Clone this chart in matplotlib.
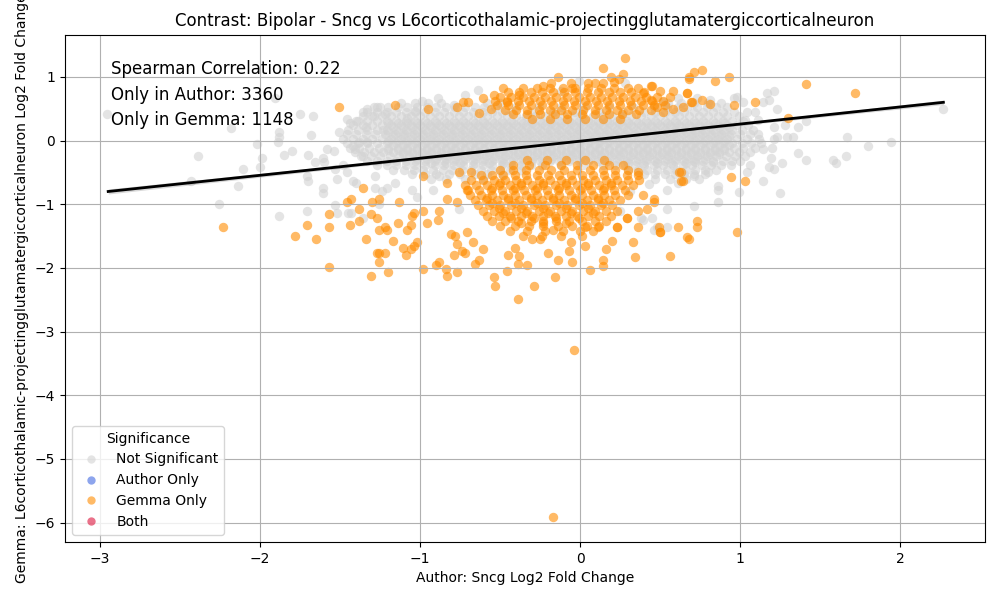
import matplotlib
matplotlib.use("Agg")
import matplotlib.pyplot as plt
from matplotlib.lines import Line2D

TITLE = "Contrast: Bipolar - Sncg vs L6corticothalamic-projectingglutamatergiccorticalneuron"
X_LABEL = "Author: Sncg Log2 Fold Change"
Y_LABEL = "Gemma: L6corticothalamic-projectingglutamatergiccorticalneuron Log2 Fold Change"
STATS = ["Spearman Correlation: 0.22", "Only in Author: 3360", "Only in Gemma: 1148"]
CATEGORIES = ["Not Significant", "Author Only", "Gemma Only", "Both"]
CAT_COLORS = ["lightgray", "royalblue", "darkorange", "crimson"]

# -- NOT SIGNIFICANT: dense band, one row per y level
gray_rows = [
    (0.59, [-1.12, -1.03, -0.95, -0.87, -0.58, -0.50, 0.55, 0.63, 0.71, 0.80, 0.88]),
    (0.52, [-1.27, -1.20, -1.14, -1.08, -1.02, -0.96, -0.90, -0.84, -0.78, -0.72, -0.66, -0.60, -0.53,
            -0.40, -0.26, -0.12, 0.03, 0.18, 0.33, 0.46, 0.54, 0.61, 0.67, 0.73, 0.79, 0.85, 0.92]),
    (0.45, [-1.33, -1.27, -1.21, -1.15, -1.09, -1.03, -0.97, -0.91, -0.85, -0.79, -0.73, -0.67, -0.61,
            -0.55, -0.49, -0.43, -0.31, -0.17, -0.03, 0.12, 0.27, 0.40, 0.47, 0.53, 0.59, 0.65, 0.71,
            0.77, 0.83, 0.89, 0.96]),
    (0.38, [-1.36, -1.30, -1.24, -1.18, -1.12, -1.06, -1.00, -0.94, -0.88, -0.82, -0.76, -0.70, -0.64,
            -0.58, -0.52, -0.46, -0.40, -0.34, -0.28, -0.22, -0.16, -0.10, -0.04, 0.02, 0.08, 0.14,
            0.20, 0.26, 0.32, 0.38, 0.44, 0.50, 0.56, 0.62, 0.68, 0.74, 0.80, 0.86, 0.92, 0.99]),
    (0.31, [-1.40, -1.33, -1.27, -1.21, -1.15, -1.09, -1.03, -0.97, -0.91, -0.85, -0.79, -0.73, -0.67,
            -0.61, -0.55, -0.49, -0.43, -0.37, -0.31, -0.25, -0.19, -0.13, -0.07, -0.01, 0.05, 0.11,
            0.17, 0.23, 0.29, 0.35, 0.41, 0.47, 0.53, 0.59, 0.65, 0.71, 0.77, 0.83, 0.89, 0.95, 1.02]),
    (0.24, [-1.42, -1.36, -1.30, -1.24, -1.18, -1.12, -1.06, -1.00, -0.94, -0.88, -0.82, -0.76, -0.70,
            -0.64, -0.58, -0.52, -0.46, -0.40, -0.34, -0.28, -0.22, -0.16, -0.10, -0.04, 0.02, 0.08,
            0.14, 0.20, 0.26, 0.32, 0.38, 0.44, 0.50, 0.56, 0.62, 0.68, 0.74, 0.80, 0.86, 0.92, 0.98,
            1.05]),
    (0.17, [-1.45, -1.39, -1.33, -1.27, -1.21, -1.15, -1.09, -1.03, -0.97, -0.91, -0.85, -0.79, -0.73,
            -0.67, -0.61, -0.55, -0.49, -0.43, -0.37, -0.31, -0.25, -0.19, -0.13, -0.07, -0.01, 0.05,
            0.11, 0.17, 0.23, 0.29, 0.35, 0.41, 0.47, 0.53, 0.59, 0.65, 0.71, 0.77, 0.83, 0.89, 0.95,
            1.01, 1.08]),
    (0.10, [-1.46, -1.40, -1.34, -1.28, -1.22, -1.16, -1.10, -1.04, -0.98, -0.92, -0.86, -0.80, -0.74,
            -0.68, -0.62, -0.56, -0.50, -0.44, -0.38, -0.32, -0.26, -0.20, -0.14, -0.08, -0.02, 0.04,
            0.10, 0.16, 0.22, 0.28, 0.34, 0.40, 0.46, 0.52, 0.58, 0.64, 0.70, 0.76, 0.82, 0.88, 0.94,
            1.00, 1.06, 1.11]),
    (0.03, [-1.48, -1.42, -1.36, -1.30, -1.24, -1.18, -1.12, -1.06, -1.00, -0.94, -0.88, -0.82, -0.76,
            -0.70, -0.64, -0.58, -0.52, -0.46, -0.40, -0.34, -0.28, -0.22, -0.16, -0.10, -0.04, 0.02,
            0.08, 0.14, 0.20, 0.26, 0.32, 0.38, 0.44, 0.50, 0.56, 0.62, 0.68, 0.74, 0.80, 0.86, 0.92,
            0.98, 1.04, 1.12]),
    (-0.04, [-1.46, -1.39, -1.33, -1.27, -1.21, -1.15, -1.09, -1.03, -0.97, -0.91, -0.85, -0.79, -0.73,
             -0.67, -0.61, -0.55, -0.49, -0.43, -0.37, -0.31, -0.25, -0.19, -0.13, -0.07, -0.01, 0.05,
             0.11, 0.17, 0.23, 0.29, 0.35, 0.41, 0.47, 0.53, 0.59, 0.65, 0.71, 0.77, 0.83, 0.89, 0.95,
             1.01, 1.07, 1.13]),
    (-0.11, [-1.44, -1.38, -1.32, -1.26, -1.20, -1.14, -1.08, -1.02, -0.96, -0.90, -0.84, -0.78, -0.72,
             -0.66, -0.60, -0.54, -0.48, -0.42, -0.36, -0.30, -0.24, -0.18, -0.12, -0.06, 0.00, 0.06,
             0.12, 0.18, 0.24, 0.30, 0.36, 0.42, 0.48, 0.54, 0.60, 0.66, 0.72, 0.78, 0.84, 0.90, 0.96,
             1.02, 1.09]),
    (-0.18, [-1.41, -1.35, -1.29, -1.23, -1.17, -1.11, -1.05, -0.99, -0.93, -0.87, -0.81, -0.75, -0.69,
             -0.63, -0.57, -0.51, -0.45, -0.39, -0.33, -0.27, -0.21, -0.15, -0.09, -0.03, 0.03, 0.09,
             0.15, 0.21, 0.27, 0.33, 0.39, 0.45, 0.51, 0.57, 0.63, 0.69, 0.75, 0.81, 0.87, 0.93, 0.99,
             1.06]),
    (-0.25, [-1.37, -1.31, -1.25, -1.19, -1.13, -1.07, -1.01, -0.95, -0.89, -0.83, -0.77, -0.71, -0.65,
             -0.59, -0.53, -0.47, -0.41, -0.35, -0.29, -0.23, -0.17, -0.11, -0.05, 0.01, 0.07, 0.13,
             0.19, 0.25, 0.31, 0.37, 0.43, 0.49, 0.55, 0.61, 0.67, 0.73, 0.79, 0.85, 0.91, 0.97, 1.03]),
    (-0.32, [-1.33, -1.27, -1.21, -1.15, -1.09, -1.03, -0.97, -0.91, -0.85, -0.79, -0.73, -0.67, -0.61,
             -0.55, -0.49, -0.43, -0.37, -0.31, -0.25, -0.19, -0.13, -0.07, -0.01, 0.05, 0.11, 0.17,
             0.23, 0.29, 0.35, 0.41, 0.47, 0.53, 0.59, 0.65, 0.71, 0.77, 0.83, 0.89, 0.95, 1.00]),
    (-0.39, [-1.27, -1.21, -1.15, -1.09, -1.03, -0.97, -0.91, -0.85, -0.79, -0.73, -0.67, -0.61, -0.55,
             -0.49, -0.43, -0.37, -0.31, -0.24, -0.12, 0.02, 0.14, 0.22, 0.28, 0.34, 0.40, 0.46, 0.52,
             0.58, 0.64, 0.70, 0.76, 0.82, 0.88, 0.94]),
    (-0.46, [-1.17, -1.10, -1.04, -0.98, -0.92, -0.86, -0.80, -0.74, -0.68, -0.62, -0.56, -0.50, -0.44,
             -0.37, 0.30, 0.36, 0.42, 0.48, 0.54, 0.60, 0.66, 0.72, 0.78, 0.85]),
    (-0.53, [-1.05, -0.97, -0.90, -0.82, -0.75, -0.66, -0.58, -0.49, 0.40, 0.47, 0.53, 0.59, 0.65, 0.71, 0.78]),
    (-0.60, [-0.93, -0.84, -0.72, -0.61, 0.47, 0.56, 0.66, 0.74]),
]

# -- NOT SIGNIFICANT: the solid middle of the band, rows between the ones above
gray_inner_rows = [
    (0.275, [-1.20, -1.14, -1.08, -1.02, -0.96, -0.90, -0.84, -0.78, -0.72, -0.66, -0.60, -0.54, -0.48,
             -0.42, -0.36, -0.30, -0.24, -0.18, -0.12, -0.06, 0.00, 0.06, 0.12, 0.18, 0.24, 0.30, 0.36,
             0.42, 0.48, 0.54, 0.60, 0.66, 0.72, 0.78, 0.84, 0.90]),
    (0.205, [-1.17, -1.11, -1.05, -0.99, -0.93, -0.87, -0.81, -0.75, -0.69, -0.63, -0.57, -0.51, -0.45,
             -0.39, -0.33, -0.27, -0.21, -0.15, -0.09, -0.03, 0.03, 0.09, 0.15, 0.21, 0.27, 0.33, 0.39,
             0.45, 0.51, 0.57, 0.63, 0.69, 0.75, 0.81, 0.87, 0.93]),
    (0.135, [-1.20, -1.14, -1.08, -1.02, -0.96, -0.90, -0.84, -0.78, -0.72, -0.66, -0.60, -0.54, -0.48,
             -0.42, -0.36, -0.30, -0.24, -0.18, -0.12, -0.06, 0.00, 0.06, 0.12, 0.18, 0.24, 0.30, 0.36,
             0.42, 0.48, 0.54, 0.60, 0.66, 0.72, 0.78, 0.84, 0.90]),
    (0.065, [-1.17, -1.11, -1.05, -0.99, -0.93, -0.87, -0.81, -0.75, -0.69, -0.63, -0.57, -0.51, -0.45,
             -0.39, -0.33, -0.27, -0.21, -0.15, -0.09, -0.03, 0.03, 0.09, 0.15, 0.21, 0.27, 0.33, 0.39,
             0.45, 0.51, 0.57, 0.63, 0.69, 0.75, 0.81, 0.87, 0.93]),
    (-0.005, [-1.20, -1.14, -1.08, -1.02, -0.96, -0.90, -0.84, -0.78, -0.72, -0.66, -0.60, -0.54, -0.48,
              -0.42, -0.36, -0.30, -0.24, -0.18, -0.12, -0.06, 0.00, 0.06, 0.12, 0.18, 0.24, 0.30, 0.36,
              0.42, 0.48, 0.54, 0.60, 0.66, 0.72, 0.78, 0.84, 0.90]),
    (-0.075, [-1.17, -1.11, -1.05, -0.99, -0.93, -0.87, -0.81, -0.75, -0.69, -0.63, -0.57, -0.51, -0.45,
              -0.39, -0.33, -0.27, -0.21, -0.15, -0.09, -0.03, 0.03, 0.09, 0.15, 0.21, 0.27, 0.33, 0.39,
              0.45, 0.51, 0.57, 0.63, 0.69, 0.75, 0.81, 0.87, 0.93]),
    (-0.145, [-1.20, -1.14, -1.08, -1.02, -0.96, -0.90, -0.84, -0.78, -0.72, -0.66, -0.60, -0.54, -0.48,
              -0.42, -0.36, -0.30, -0.24, -0.18, -0.12, -0.06, 0.00, 0.06, 0.12, 0.18, 0.24, 0.30, 0.36,
              0.42, 0.48, 0.54, 0.60, 0.66, 0.72, 0.78, 0.84, 0.90]),
    (-0.215, [-1.11, -1.05, -0.99, -0.93, -0.87, -0.81, -0.75, -0.69, -0.63, -0.57, -0.51, -0.45,
              -0.39, -0.33, -0.27, -0.21, -0.15, -0.09, -0.03, 0.03, 0.09, 0.15, 0.21, 0.27, 0.33, 0.39,
              0.45, 0.51, 0.57, 0.63, 0.69, 0.75, 0.81, 0.87]),
    (-0.285, [-1.02, -0.96, -0.90, -0.84, -0.78, -0.72, -0.66, -0.60, -0.54, -0.48, -0.42, -0.36,
              -0.30, -0.24, -0.18, -0.12, -0.06, 0.00, 0.06, 0.12, 0.18, 0.24, 0.30, 0.36, 0.42, 0.48,
              0.54, 0.60, 0.66, 0.72, 0.78]),
    (-0.355, [-0.93, -0.84, -0.75, -0.66, -0.57, -0.48, 0.30, 0.39, 0.48, 0.57, 0.66]),
]

# -- NOT SIGNIFICANT: scattered points outside the band
gray_sparse = [
    (-2.96, 0.42), (-2.18, 0.19), (-2.39, -0.24), (-2.11, -0.44), (-2.14, -0.71), (-2.26, -0.99),
    (-2.43, -0.63), (-2.02, -0.05), (-2.00, -0.41), (-1.99, -0.27), (-1.88, -1.18), (-1.89, -0.02),
    (-1.88, 0.06), (-1.88, 0.13), (-1.91, 0.67), (-1.80, -0.17), (-1.85, -0.22), (-1.75, 0.41),
    (-1.67, 0.39), (-1.68, 0.09), (-1.70, -0.22), (-1.71, -0.55), (-1.70, -0.63), (-1.66, -0.34),
    (-1.61, -0.28), (-1.60, -0.34), (-1.61, -0.75), (-1.61, -0.82), (-1.71, -1.10), (-1.58, -0.14),
    (-1.54, -0.17), (-1.51, 0.13), (-1.46, 0.34), (-1.44, 0.27), (-1.39, 0.30), (-1.36, 0.45),
    (-1.33, 0.50), (-1.34, 0.22), (-1.53, -0.44), (-1.52, -0.61), (-1.48, -0.38), (-1.46, -0.49),
    (-1.53, -1.02), (-1.52, -1.13), (-1.43, -1.14), (-1.42, -0.09), (-1.38, -0.03), (-1.41, -0.14),
    (-1.36, -0.25), (-1.33, -0.03), (-1.40, -0.66), (-1.28, -0.56), (-1.28, -0.74), (-1.24, -0.80),
    (-1.21, -0.74), (-1.36, -1.21), (-1.26, -1.00), (-1.29, 0.38), (-1.25, 0.52), (-1.22, 0.41),
    (-1.23, 0.17), (-1.45, -1.13), (-1.42, -0.64), (-1.16, -0.66), (-1.02, -0.88), (-1.05, -0.77),
    (-0.92, -0.77), (-0.88, -0.56), (-0.76, -1.08), (-0.89, 0.66), (-0.64, 0.80), (-0.72, 0.72),
    (-0.79, 0.56), (-1.03, 0.47), (-0.99, 0.62), (-1.08, 0.36), (-1.29, 0.52), (-0.01, 0.93),
    (-0.12, 0.77), (0.28, 0.91), (0.52, 0.61), (0.61, 0.67),
    (2.27, 0.50), (1.94, -0.02), (1.80, -0.09), (1.67, 0.05), (1.66, -0.25), (1.60, -0.36),
    (1.58, -0.30), (1.41, -0.30), (1.36, -0.19), (1.41, 0.31), (1.36, 0.22), (1.33, 0.05),
    (1.29, 0.06), (1.21, 0.77), (1.17, 0.75), (1.25, -0.83), (1.26, -0.36), (1.21, -0.44),
    (1.18, -0.41), (1.19, -0.28), (1.14, -0.64), (0.99, -0.81), (0.86, -0.72), (0.86, -0.96),
    (1.06, -0.38), (1.04, -0.50), (1.14, -0.14), (1.20, -0.11), (1.21, 0.02), (1.23, 0.05),
    (1.21, 0.22), (1.28, 0.25), (1.23, 0.49), (1.14, 0.60), (1.18, 0.64), (1.09, 0.45),
    (1.11, 0.33), (1.04, 0.45), (1.03, 0.33), (0.98, 0.69), (1.02, 0.61), (0.96, 0.67),
    (0.81, 0.64), (0.73, 0.67), (0.71, -1.03), (0.54, -1.08), (0.54, -1.35), (0.46, -1.40),
    (0.31, -0.80), (0.43, -0.69), (0.54, -0.77), (0.61, -0.66), (0.71, -0.56), (0.80, -0.49),
    (0.86, -0.77), (0.45, -1.21), (0.48, -1.36), (0.25, -1.11), (0.39, -1.24), (0.72, -0.34),
    (0.83, -0.33), (0.38, -1.21),
]

# -- GEMMA ONLY: upper and lower lobes, one row per y level
orange_rows = [
    (0.90, [-0.18, -0.06, 0.05, 0.14]),
    (0.83, [-0.36, -0.27, -0.19, -0.11, -0.03, 0.05, 0.13, 0.21, 0.30]),
    (0.76, [-0.45, -0.38, -0.31, -0.24, -0.17, -0.10, -0.03, 0.04, 0.11, 0.18, 0.25, 0.32, 0.40]),
    (0.69, [-0.50, -0.43, -0.36, -0.29, -0.22, -0.15, -0.08, -0.01, 0.06, 0.13, 0.20, 0.27, 0.34,
            0.41, 0.48]),
    (0.62, [-0.53, -0.46, -0.39, -0.32, -0.25, -0.18, -0.11, -0.04, 0.03, 0.10, 0.17, 0.24, 0.31,
            0.38, 0.45, 0.52]),
    (0.55, [-0.52, -0.45, -0.38, -0.31, -0.24, -0.17, -0.10, -0.03, 0.04, 0.11, 0.18, 0.25, 0.32,
            0.39, 0.46, 0.53]),
    (0.48, [-0.47, -0.40, -0.33, -0.26, -0.19, -0.12, -0.05, 0.02, 0.09, 0.16, 0.23, 0.30, 0.37, 0.44]),
    (0.41, [-0.42, -0.33, -0.25, -0.16, -0.08, 0.01, 0.09, 0.18, 0.26, 0.35]),
    (0.34, [-0.30, -0.19, -0.08, 0.03, 0.14, 0.25]),
    (-0.30, [-0.33, -0.21, -0.09, 0.03, 0.15]),
    (-0.38, [-0.42, -0.32, -0.22, -0.12, -0.02, 0.08, 0.18, 0.27]),
    (-0.46, [-0.50, -0.42, -0.34, -0.26, -0.18, -0.10, -0.02, 0.06, 0.14, 0.22, 0.30]),
    (-0.54, [-0.62, -0.55, -0.48, -0.41, -0.34, -0.27, -0.20, -0.13, -0.06, 0.01, 0.08, 0.15, 0.22,
             0.29, 0.36]),
    (-0.62, [-0.68, -0.61, -0.54, -0.47, -0.40, -0.33, -0.26, -0.19, -0.12, -0.05, 0.02, 0.09, 0.16,
             0.23, 0.30, 0.37]),
    (-0.70, [-0.72, -0.65, -0.58, -0.51, -0.44, -0.37, -0.30, -0.23, -0.16, -0.09, -0.02, 0.05, 0.12,
             0.19, 0.26, 0.33]),
    (-0.78, [-0.70, -0.63, -0.56, -0.49, -0.42, -0.35, -0.28, -0.21, -0.14, -0.07, 0.00, 0.07, 0.14,
             0.21, 0.28]),
    (-0.86, [-0.69, -0.62, -0.55, -0.48, -0.41, -0.34, -0.27, -0.20, -0.13, -0.06, 0.01, 0.08, 0.15,
             0.22, 0.30]),
    (-0.94, [-0.66, -0.59, -0.52, -0.45, -0.38, -0.31, -0.24, -0.17, -0.10, -0.03, 0.04, 0.11, 0.18, 0.25]),
    (-1.02, [-0.64, -0.57, -0.50, -0.43, -0.36, -0.29, -0.22, -0.15, -0.08, -0.01, 0.06, 0.13, 0.20]),
    (-1.10, [-0.61, -0.54, -0.47, -0.40, -0.33, -0.26, -0.19, -0.12, -0.05, 0.02, 0.09, 0.16, 0.23]),
    (-1.18, [-0.58, -0.51, -0.44, -0.37, -0.30, -0.23, -0.16, -0.09, -0.02, 0.05, 0.12, 0.19]),
    (-1.26, [-0.55, -0.47, -0.39, -0.31, -0.23, -0.15, -0.07, 0.01, 0.09, 0.16]),
    (-1.34, [-0.50, -0.41, -0.32, -0.23, -0.14, -0.05, 0.04, 0.12]),
    (-1.42, [-0.44, -0.33, -0.22, -0.11, 0.00, 0.08]),
    (-1.50, [-0.36, -0.24, -0.12, 0.01]),
]

# -- GEMMA ONLY: densest part of the lower lobe
orange_core_rows = [
    (-0.66, [-0.50, -0.37, -0.23, -0.09, 0.05, 0.19]),
    (-0.74, [-0.55, -0.41, -0.27, -0.13, 0.01, 0.15]),
    (-0.90, [-0.58, -0.45, -0.31, -0.17, -0.03, 0.11]),
    (-0.98, [-0.55, -0.41, -0.27, -0.13, 0.01, 0.14]),
    (-1.06, [-0.51, -0.37, -0.23, -0.09, 0.05]),
    (-1.14, [-0.48, -0.34, -0.20, -0.06, 0.08]),
    (-1.22, [-0.43, -0.29, -0.15, -0.01]),
    (-1.30, [-0.37, -0.23, -0.09]),
]

# -- GEMMA ONLY: scattered points
orange_sparse = [
    (0.28, 1.30), (0.14, 1.14), (0.27, 1.05), (0.19, 1.00), (0.24, 0.97), (0.21, 0.92), (0.09, 0.91),
    (-0.14, 1.00), (-0.48, 0.83), (-0.54, 0.72), (-0.61, 0.66), (-1.16, 0.55), (-0.95, 0.49),
    (-0.70, 0.61), (-0.38, 0.71), (-0.23, 0.85), (-0.05, 0.82), (0.36, 0.83), (0.39, 0.75),
    (0.45, 0.85), (0.50, 0.77), (0.58, 0.77), (0.56, 0.69), (0.68, 1.00), (0.71, 1.08), (0.67, 0.75),
    (-0.73, 0.60), (-0.77, 0.53), (-0.63, 0.44), (-0.56, 0.49), (-0.46, 0.60), (0.44, 0.64),
    (0.48, 0.53), (0.52, 0.45), (0.58, 0.49), (0.64, 0.52), (0.69, 0.60), (-1.51, 0.52), (1.72, 0.75),
    (1.41, 0.88), (1.09, 0.60), (1.30, 0.35), (0.96, 0.55), (0.93, 1.00), (0.84, 0.94), (0.76, 1.10),
    (0.68, 0.97), (0.67, 0.74), (0.76, 0.63), (0.70, 0.60), (0.81, 0.58), (0.44, 0.85),
    (0.94, -0.58), (1.03, -0.63), (0.63, -0.63), (0.62, -0.50), (0.98, -1.44), (0.73, -1.27),
    (0.73, -1.35), (0.68, -1.54), (0.61, -1.35), (0.50, -1.43), (0.49, -1.36), (0.56, -1.82),
    (0.42, -1.08), (0.39, -0.85), (0.46, -0.96), (0.36, -0.50), (0.63, -0.50), (0.64, -0.64),
    (0.46, -0.92), (0.36, -1.11), (0.29, -1.21), (0.36, -1.35), (0.23, -1.36), (0.67, -1.51),
    (0.50, -1.44), (-2.23, -1.35), (-1.78, -1.50), (-1.71, -1.32), (-1.65, -1.54), (-1.57, -1.16),
    (-1.57, -1.36), (-1.57, -1.99), (-1.46, -0.97), (-1.43, -0.92), (-1.44, -1.32), (-1.38, -1.07),
    (-1.36, -0.74), (-1.38, -1.27), (-1.34, -1.55), (-1.31, -2.13), (-1.31, -1.16), (-1.30, -0.96),
    (-1.26, -0.92), (-1.27, -1.21), (-1.26, -1.40), (-1.26, -1.76), (-1.26, -1.91), (-1.22, -1.36),
    (-1.22, -1.76), (-1.20, -2.07), (-1.13, -0.96), (-1.05, -1.19), (-0.98, -1.11), (-0.96, -1.29),
    (-0.88, -1.11), (-0.83, -0.92), (-0.77, -0.96), (-0.83, -0.66), (-0.76, -0.50), (-0.68, -0.49),
    (-0.71, -0.77), (-0.89, -1.24), (-1.08, -1.40), (-0.98, -0.56), (-1.27, -1.77), (-1.21, -1.40),
    (-1.17, -1.58), (-1.14, -1.29), (-1.11, -1.68), (-1.09, -1.79), (-1.06, -1.71), (-1.04, -1.66),
    (-1.02, -1.60), (-1.06, -1.32), (-1.04, -1.13), (-0.98, -2.01), (-0.90, -1.96), (-0.88, -1.90),
    (-0.84, -2.02), (-0.83, -2.12), (-0.77, -2.07), (-0.79, -1.79), (-0.77, -1.63), (-0.81, -1.47),
    (-0.78, -1.50), (-0.74, -1.74), (-0.72, -1.76), (-0.71, -1.44), (-0.67, -1.60), (-0.66, -1.94),
    (-0.63, -1.87), (-0.61, -1.71), (-0.54, -2.15), (-0.53, -2.29), (-0.46, -2.05), (-0.45, -1.80),
    (-0.39, -1.94), (-0.39, -2.49), (-0.41, -1.68), (-0.38, -1.82), (-0.33, -1.96), (-0.29, -2.29),
    (-0.30, -1.55), (-0.25, -1.55), (-0.20, -1.76), (-0.16, -2.15), (-0.14, -1.87), (-0.07, -1.74),
    (-0.05, -1.91), (-0.06, -1.60), (0.03, -1.66), (0.06, -2.04), (0.14, -1.87), (0.14, -1.97),
    (0.16, -1.71), (0.20, -1.58), (0.23, -1.36), (0.33, -1.60), (0.34, -1.83), (0.29, -1.21),
    (0.03, -1.35), (0.11, -1.36), (-0.17, -1.40), (-0.04, -3.29), (-0.17, -5.91),
]

# -- REGRESSION LINE AND CONFIDENCE BAND
fit_x = [-2.95, 0.0, 2.27]
fit_y = [-0.80, -0.01, 0.60]
fit_ci = [0.04, 0.01, 0.035]

MARKER_SIZE = 46


def expand(rows):
    xs, ys = [], []
    for y, row in rows:
        xs += row
        ys += [y] * len(row)
    return xs, ys


gx, gy = expand(gray_rows)
ix, iy = expand(gray_inner_rows)
ox, oy = expand(orange_rows)
cx, cy = expand(orange_core_rows)

fig, ax = plt.subplots(figsize=(10, 6), dpi=100)
fig.subplots_adjust(left=0.065, right=0.985, top=0.942, bottom=0.097)

scatter_kw = dict(s=MARKER_SIZE, alpha=0.6, linewidths=0)
ax.scatter(gx, gy, c="lightgray", **scatter_kw)
ax.scatter(ix, iy, c="lightgray", **scatter_kw)
ax.scatter([p[0] for p in gray_sparse], [p[1] for p in gray_sparse], c="lightgray", **scatter_kw)
ax.scatter(ox, oy, c="darkorange", **scatter_kw)
ax.scatter(cx, cy, c="darkorange", **scatter_kw)
ax.scatter([p[0] for p in orange_sparse], [p[1] for p in orange_sparse], c="darkorange", **scatter_kw)

ax.fill_between(fit_x, [y - c for y, c in zip(fit_y, fit_ci)], [y + c for y, c in zip(fit_y, fit_ci)],
                color="black", alpha=0.15, linewidth=0)
ax.plot(fit_x, fit_y, color="black", lw=2)

for i, txt in enumerate(STATS):
    ax.text(0.05, 0.95 - 0.05 * i, txt, transform=ax.transAxes, fontsize=12, va="top")

ax.set_xlim(-3.22, 2.53)
ax.set_ylim(-6.30, 1.66)
ax.grid(True)
ax.set_title(TITLE, fontsize=12)
ax.set_xlabel(X_LABEL)
ax.set_ylabel(Y_LABEL)

handles = [Line2D([], [], marker="o", linestyle="", markersize=6, markeredgewidth=0,
                  markerfacecolor=c, alpha=0.6) for c in CAT_COLORS]
ax.legend(handles, CATEGORIES, title="Significance", loc="lower left")

fig.savefig("out.png")
